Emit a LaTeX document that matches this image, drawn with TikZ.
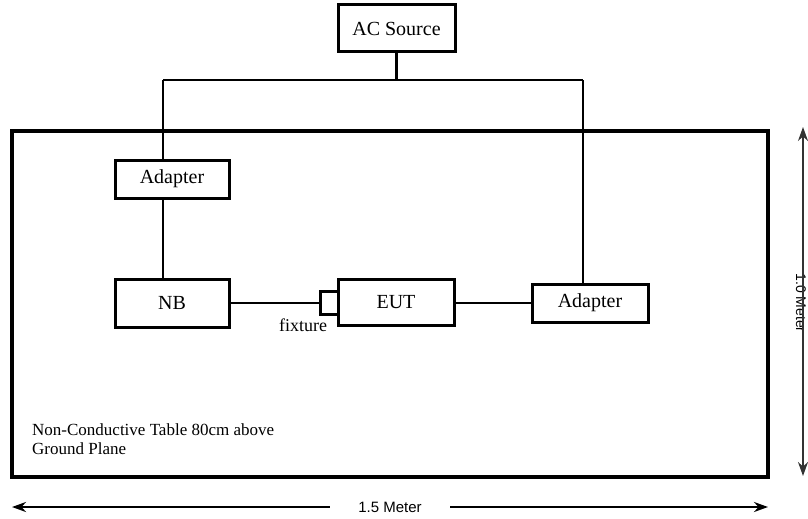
\documentclass[tikz,border=0pt]{standalone}
\usepackage{fontspec}
\setmainfont{Liberation Serif}
\newfontfamily\metersf{Liberation Sans}
\usepackage{tikz}
\usetikzlibrary{calc, positioning, shapes, arrows.meta}

\begin{document}
\begin{tikzpicture}[
            x=1pt, y=-1pt,
            box/.style={draw, rectangle, line width=3pt, inner sep=0pt, fill=white,
                font=\fontsize{20}{22}\selectfont},
            wire/.style={line width=2.8pt},
            dimlabel/.style={inner sep=0pt, font=\metersf\fontsize{15}{17}\selectfont},
            >={Stealth[length=14pt, width=10pt]}
        ]
            \useasboundingbox (0, 0) rectangle (808, 519);
            % table
            \node[draw, rectangle, line width=3.2pt, minimum width=756pt, minimum height=346pt, inner sep=0pt] (tbl) at (390, 304) {};
            \node[anchor=north west, align=left, inner sep=0pt, font=\fontsize{17}{19}\selectfont] (note) at (32, 423) {Non-Conductive Table 80cm above\\Ground Plane};
            % boxes
            \node[box, minimum width=117pt, minimum height=47pt] (ac) at (396.5, 28.5) {AC Source};
            \node[box, minimum width=114pt, minimum height=38pt] (adl) at (172, 179) {Adapter};
            \node[box, minimum width=114pt, minimum height=48pt] (nb) at (172, 303) {NB};
            \node[box, minimum width=18pt, minimum height=23pt] (fix) at (329, 303) {};
            \node[box, minimum width=116pt, minimum height=46pt] (eut) at (396, 302) {EUT};
            \node[box, minimum width=116pt, minimum height=38pt] (adr) at (590, 303) {Adapter};
            \node[inner sep=0pt, font=\fontsize{18}{20}\selectfont, anchor=north] (fixlbl) at (303, 319) {fixture};
            % supply lines
            \coordinate (jl) at (163, 80);
            \coordinate (jr) at (583, 80);
            \draw[wire] (ac.south) -- (ac.south |- jl);
            \draw[wire] (jl) -- (jr);
            \draw[wire] (jl) -- (jl |- adl.north);
            \draw[wire] (jl |- adl.south) -- (jl |- nb.north);
            \draw[wire] (jr) -- (jr |- adr.north);
            \draw[wire] (nb.east) -- (fix.west);
            \draw[wire] (eut.east |- adr.west) -- (adr.west);
            % dimensions
            \node[dimlabel, minimum width=120pt] (wlbl) at (390, 507) {1.5 Meter};
            \coordinate (wl) at (12, 507);
            \coordinate (wr) at (768, 507);
            \draw[->, line width=2.4pt] (wlbl.west) -- (wl);
            \draw[->, line width=2.4pt] (wlbl.east) -- (wr);
            \node[dimlabel, rotate=-90, minimum width=90pt, font=\metersf\fontsize{14}{16}\selectfont] (hlbl) at (801, 303) {1.0 Meter};
            \coordinate (ht) at (803, 127);
            \coordinate (hb) at (803, 476);
            \draw[->, line width=1.5pt, black!80] (hlbl.east -| ht) -- (ht);
            \draw[->, line width=1.5pt, black!80] (hlbl.west -| hb) -- (hb);
        \end{tikzpicture}
\end{document}
